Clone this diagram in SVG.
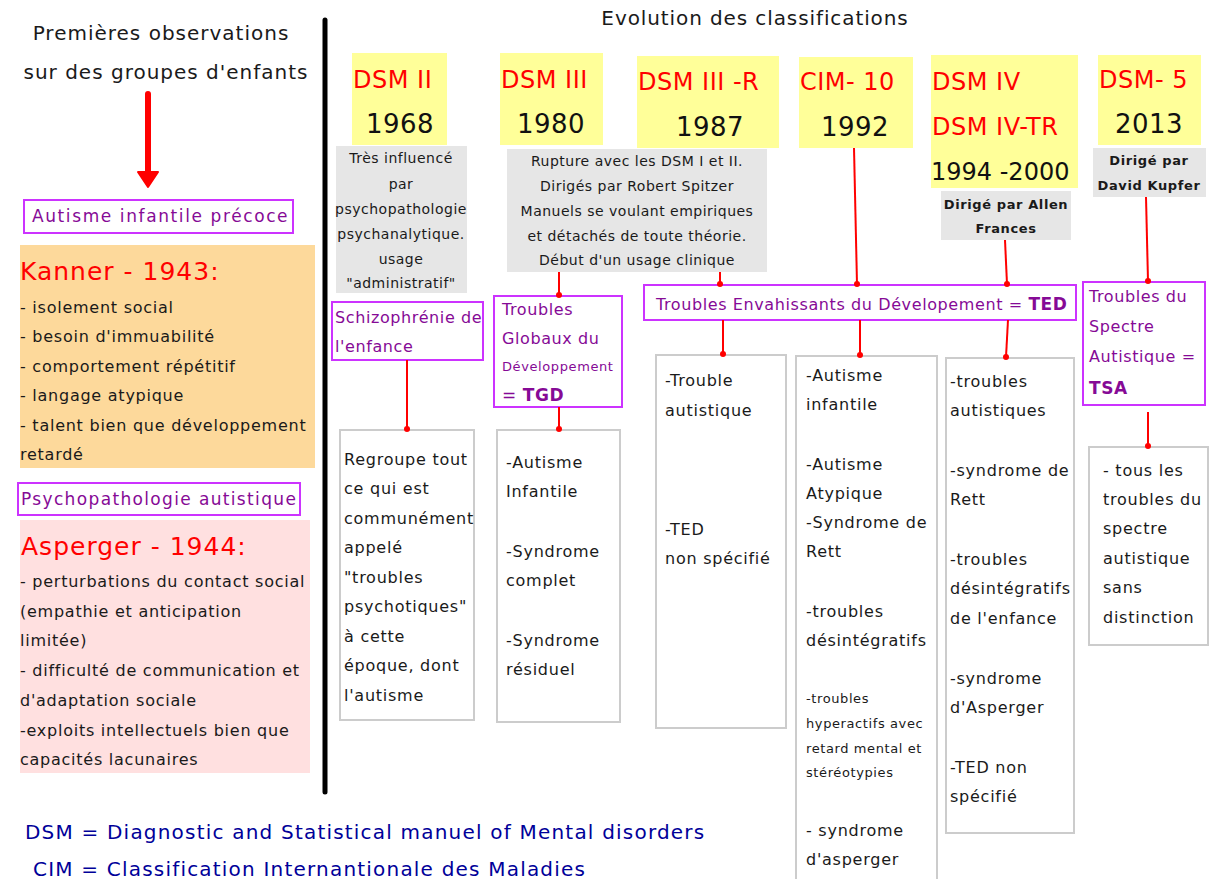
<svg xmlns="http://www.w3.org/2000/svg" width="1216" height="879" viewBox="0 0 1216 879">
<style>
text{font-family:"DejaVu Sans","Verdana",sans-serif;}
.h{font-size:20px;fill:#1a1a1a;letter-spacing:1px}
.b{font-size:16px;fill:#1a1a1a;letter-spacing:0.75px}
.s{font-size:14px;fill:#1a1a1a;letter-spacing:0.5px}
.xs{font-size:13px;fill:#1a1a1a;letter-spacing:0.6px}
.red{fill:#ff0000}
.big{font-size:25px;letter-spacing:1px}
.lab{font-size:24px;fill:#ff0000;letter-spacing:0.5px}
.yr{font-size:26px;fill:#111;letter-spacing:0.5px}
.pur{font-size:16px;fill:#860a96;letter-spacing:0.6px}
.yel{fill:#ffff99}
.gray{fill:#e6e6e6}
.wbox{fill:#fff;stroke:#cccccc;stroke-width:2}
.pbox{fill:#fff;stroke:#cc33ff;stroke-width:2}
.conn{stroke:#ff0000;stroke-width:2;fill:none;marker-end:url(#dot)}
.leg{font-size:20px;fill:#000099;letter-spacing:1.2px}
.c{text-anchor:middle}
</style>
<defs>
<marker id="dot" viewBox="0 0 6 6" refX="3" refY="3" markerWidth="3" markerHeight="3" markerUnits="strokeWidth">
<circle cx="3" cy="3" r="3" fill="#ff0000"/>
</marker>
</defs>
<rect width="1216" height="879" fill="#fff"/>

<g id="premieres">
<text class="h c" x="161" y="40">Premières observations</text>
<text class="h c" x="166" y="79">sur des groupes d'enfants</text>
<line x1="148" y1="94" x2="148" y2="174" stroke="#ff0000" stroke-width="6" stroke-linecap="round"/>
<polygon points="138,172 158,172 148,187" fill="#ff0000" stroke="#ff0000" stroke-width="2" stroke-linejoin="round"/>
</g>

<g id="autisme-precoce">
<rect class="pbox" x="24" y="200" width="269" height="33"/>
<text class="pur" x="32" y="222" style="font-size:17px;letter-spacing:1.6px">Autisme infantile précoce</text>
</g>

<g id="kanner">
<rect x="20" y="245" width="295" height="223" fill="#fdd99b"/>
<text class="red big" x="20" y="280">Kanner - 1943:</text>
<text class="b" x="20" y="313">- isolement social</text>
<text class="b" x="20" y="342">- besoin d'immuabilité</text>
<text class="b" x="20" y="372">- comportement répétitif</text>
<text class="b" x="20" y="401">- langage atypique</text>
<text class="b" x="20" y="431">- talent bien que développement</text>
<text class="b" x="20" y="460">retardé</text>
</g>

<g id="psychopathologie">
<rect class="pbox" x="18" y="483" width="282" height="32"/>
<text class="pur" x="21" y="505" style="font-size:17px;letter-spacing:1.35px">Psychopathologie autistique</text>
</g>

<g id="asperger">
<rect x="20" y="520" width="290" height="253" fill="#ffe0e0"/>
<text class="red big" x="21" y="555">Asperger - 1944:</text>
<text class="b" x="20" y="587">- perturbations du contact social</text>
<text class="b" x="20" y="617">(empathie et anticipation</text>
<text class="b" x="20" y="646">limitée)</text>
<text class="b" x="20" y="676">- difficulté de communication et</text>
<text class="b" x="20" y="706">d'adaptation sociale</text>
<text class="b" x="20" y="736">-exploits intellectuels bien que</text>
<text class="b" x="20" y="765">capacités lacunaires</text>
</g>

<line x1="325" y1="20" x2="325" y2="792" stroke="#000" stroke-width="5" stroke-linecap="round"/>

<text class="h c" x="755" y="25" style="letter-spacing:0.9px">Evolution des classifications</text>

<g id="dsm2">
<rect class="yel" x="352" y="53" width="95" height="92"/>
<text class="lab" x="353" y="88">DSM II</text>
<text class="yr c" x="400" y="133">1968</text>
<rect class="gray" x="336" y="146" width="131" height="147"/>
<text class="s c" x="401" y="163">Très influencé</text>
<text class="s c" x="401" y="189">par</text>
<text class="s c" x="401" y="214">psychopathologie</text>
<text class="s c" x="401" y="239">psychanalytique.</text>
<text class="s c" x="401" y="264">usage</text>
<text class="s c" x="401" y="288">"administratif"</text>
</g>

<g id="dsm3">
<rect class="yel" x="500" y="53" width="103" height="92"/>
<text class="lab" x="501" y="88">DSM III</text>
<text class="yr c" x="551" y="133">1980</text>
<rect class="gray" x="507" y="149" width="260" height="123"/>
<text class="s c" x="637" y="166">Rupture avec les DSM I et II.</text>
<text class="s c" x="637" y="191">Dirigés par Robert Spitzer</text>
<text class="s c" x="637" y="216">Manuels se voulant empiriques</text>
<text class="s c" x="637" y="241">et détachés de toute théorie.</text>
<text class="s c" x="637" y="265">Début d'un usage clinique</text>
</g>

<g id="dsm3r">
<rect class="yel" x="637" y="56" width="142" height="92"/>
<text class="lab" x="638" y="90">DSM III -R</text>
<text class="yr c" x="710" y="136">1987</text>
</g>

<g id="cim10">
<rect class="yel" x="799" y="57" width="114" height="91"/>
<text class="lab" x="800" y="90">CIM- 10</text>
<text class="yr c" x="855" y="136">1992</text>
</g>

<g id="dsm4">
<rect class="yel" x="931" y="55" width="147" height="133"/>
<text class="lab" x="932" y="90">DSM IV</text>
<text class="lab" x="932" y="135">DSM IV-TR</text>
<text class="yr" x="931" y="180" style="font-size:24px;letter-spacing:0">1994 -2000</text>
<rect class="gray" x="941" y="191" width="130" height="49"/>
<text class="xs c" x="1006" y="209" style="font-weight:bold">Dirigé par Allen</text>
<text class="xs c" x="1006" y="233" style="font-weight:bold">Frances</text>
</g>

<g id="dsm5">
<rect class="yel" x="1098" y="55" width="103" height="90"/>
<text class="lab" x="1099" y="88">DSM- 5</text>
<text class="yr c" x="1149" y="133">2013</text>
<rect class="gray" x="1093" y="148" width="113" height="49"/>
<text class="xs c" x="1149" y="165" style="font-weight:bold">Dirigé par</text>
<text class="xs c" x="1149" y="190" style="font-weight:bold">David Kupfer</text>
</g>

<g id="schizophrenie">
<rect class="pbox" x="332" y="302" width="151" height="58"/>
<text class="pur" x="335" y="323">Schizophrénie de</text>
<text class="pur" x="335" y="352">l'enfance</text>
</g>

<g id="tgd">
<rect class="pbox" x="494" y="296" width="128" height="111"/>
<text class="pur" x="502" y="315">Troubles</text>
<text class="pur" x="502" y="344">Globaux du</text>
<text class="pur" x="502" y="371" style="font-size:13px">Développement</text>
<text class="pur" x="502" y="401" style="font-size:17px"><tspan>= </tspan><tspan font-weight="bold">TGD</tspan></text>
</g>

<g id="ted">
<rect class="pbox" x="644" y="285" width="432" height="35"/>
<text class="pur" x="656" y="310">Troubles Envahissants du Dévelopement = <tspan font-weight="bold" style="font-size:17px">TED</tspan></text>
</g>

<g id="tsa">
<rect class="pbox" x="1083" y="282" width="122" height="123"/>
<text class="pur" x="1089" y="302">Troubles du</text>
<text class="pur" x="1089" y="332">Spectre</text>
<text class="pur" x="1089" y="362">Autistique =</text>
<text class="pur" x="1089" y="394" style="font-size:17px;font-weight:bold">TSA</text>
</g>

<g id="box-dsm2">
<rect class="wbox" x="340" y="430" width="134" height="290"/>
<text class="b" x="344" y="465">Regroupe tout</text>
<text class="b" x="344" y="494">ce qui est</text>
<text class="b" x="344" y="524">communément</text>
<text class="b" x="344" y="553">appelé</text>
<text class="b" x="344" y="583">"troubles</text>
<text class="b" x="344" y="612">psychotiques"</text>
<text class="b" x="344" y="642">à cette</text>
<text class="b" x="344" y="671">époque, dont</text>
<text class="b" x="344" y="701">l'autisme</text>
</g>

<g id="box-dsm3">
<rect class="wbox" x="497" y="430" width="123" height="292"/>
<text class="b" x="506" y="468">-Autisme</text>
<text class="b" x="506" y="497">Infantile</text>
<text class="b" x="506" y="557">-Syndrome</text>
<text class="b" x="506" y="586">complet</text>
<text class="b" x="506" y="646">-Syndrome</text>
<text class="b" x="506" y="675">résiduel</text>
</g>

<g id="box-dsm3r">
<rect class="wbox" x="656" y="355" width="130" height="373"/>
<text class="b" x="665" y="386">-Trouble</text>
<text class="b" x="665" y="416">autistique</text>
<text class="b" x="665" y="535">-TED</text>
<text class="b" x="665" y="564">non spécifié</text>
</g>

<g id="box-cim10">
<rect class="wbox" x="796" y="356" width="141" height="530"/>
<text class="b" x="806" y="381">-Autisme</text>
<text class="b" x="806" y="410">infantile</text>
<text class="b" x="806" y="470">-Autisme</text>
<text class="b" x="806" y="499">Atypique</text>
<text class="b" x="806" y="528">-Syndrome de</text>
<text class="b" x="806" y="557">Rett</text>
<text class="b" x="806" y="617">-troubles</text>
<text class="b" x="806" y="646">désintégratifs</text>
<text class="xs" x="806" y="703">-troubles</text>
<text class="xs" x="806" y="728">hyperactifs avec</text>
<text class="xs" x="806" y="753">retard mental et</text>
<text class="xs" x="806" y="777">stéréotypies</text>
<text class="b" x="806" y="836">- syndrome</text>
<text class="b" x="806" y="865">d'asperger</text>
</g>

<g id="box-dsm4">
<rect class="wbox" x="946" y="358" width="128" height="475"/>
<text class="b" x="950" y="387">-troubles</text>
<text class="b" x="950" y="416">autistiques</text>
<text class="b" x="950" y="476">-syndrome de</text>
<text class="b" x="950" y="505">Rett</text>
<text class="b" x="950" y="565">-troubles</text>
<text class="b" x="950" y="594">désintégratifs</text>
<text class="b" x="950" y="624">de l'enfance</text>
<text class="b" x="950" y="684">-syndrome</text>
<text class="b" x="950" y="713">d'Asperger</text>
<text class="b" x="950" y="773">-TED non</text>
<text class="b" x="950" y="802">spécifié</text>
</g>

<g id="box-dsm5">
<rect class="wbox" x="1089" y="447" width="119" height="198"/>
<text class="b" x="1103" y="476">- tous les</text>
<text class="b" x="1103" y="505">troubles du</text>
<text class="b" x="1103" y="534">spectre</text>
<text class="b" x="1103" y="564">autistique</text>
<text class="b" x="1103" y="593">sans</text>
<text class="b" x="1103" y="623">distinction</text>
</g>

<g id="connectors">
<line class="conn" x1="407" y1="360" x2="407" y2="429"/>
<line class="conn" x1="559" y1="407" x2="559" y2="429"/>
<line class="conn" x1="559" y1="272" x2="559" y2="295"/>
<line class="conn" x1="720" y1="272" x2="720" y2="284"/>
<line class="conn" x1="854" y1="148" x2="857" y2="284"/>
<line class="conn" x1="1005" y1="240" x2="1007" y2="284"/>
<line class="conn" x1="1146" y1="197" x2="1148" y2="281"/>
<line class="conn" x1="723" y1="320" x2="723" y2="354"/>
<line class="conn" x1="860" y1="320" x2="860" y2="355"/>
<line class="conn" x1="1008" y1="320" x2="1006" y2="357"/>
<line class="conn" x1="1148" y1="412" x2="1148" y2="446"/>
</g>

<g id="legend">
<text class="leg" x="25" y="839">DSM = Diagnostic and Statistical manuel of Mental disorders</text>
<text class="leg" x="33" y="876">CIM = Classification Internantionale des Maladies</text>
</g>
</svg>
